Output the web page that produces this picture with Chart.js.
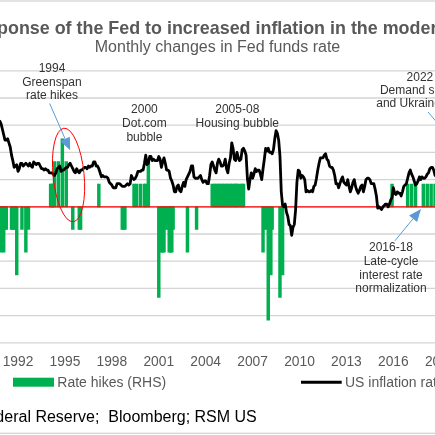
<!DOCTYPE html>
<html>
<head>
<meta charset="utf-8">
<script src="https://cdn.jsdelivr.net/npm/chart.js@4.4.1/dist/chart.umd.min.js"></script>
<style>
  html, body { margin: 0; padding: 0; background: #fff; overflow: hidden; width: 435px; height: 435px; }
  #wrap { position: relative; width: 435px; height: 435px; overflow: hidden; }
  #c { position: absolute; left: -86px; top: 0; }
</style>
</head>
<body>
<div id="wrap"><canvas id="c" width="608" height="435"></canvas></div>
<script>
// ---------------- DATA ----------------
const titleText = 'Response of the Fed to increased inflation in the modern era';
const subtitleText = 'Monthly changes in Fed funds rate';
const sourceText = 'Source: Federal Reserve;  Bloomberg; RSM US';
const seriesNames = ['Rate hikes (RHS)', 'US inflation rate (LHS)'];
const xTickYears = [1992, 1995, 1998, 2001, 2004, 2007, 2010, 2013, 2016, 2019, 2022];

// US CPI inflation, y/y %, monthly from Jan 1990
const inflationStartYear = 1990;
const inflationYoY = [
  5.2, 5.3, 5.2, 4.7, 4.4, 4.7, 4.8, 5.6, 6.2, 6.3, 6.3, 6.1,
  5.7, 5.3, 4.9, 4.9, 5.0, 4.7, 4.4, 3.8, 3.4, 2.9, 3.0, 3.1,
  2.6, 2.8, 3.2, 3.2, 3.0, 3.1, 3.2, 3.1, 3.0, 3.2, 3.0, 2.9,
  3.3, 3.2, 3.1, 3.2, 3.2, 3.0, 2.8, 2.8, 2.7, 2.8, 2.7, 2.7,
  2.5, 2.5, 2.5, 2.4, 2.3, 2.5, 2.8, 2.9, 3.0, 2.6, 2.7, 2.7,
  2.8, 2.9, 2.9, 3.1, 3.2, 3.0, 2.8, 2.6, 2.5, 2.8, 2.6, 2.5,
  2.7, 2.7, 2.8, 2.9, 2.9, 2.8, 3.0, 2.9, 3.0, 3.0, 3.3, 3.3,
  3.0, 3.0, 2.8, 2.5, 2.2, 2.3, 2.2, 2.2, 2.2, 2.1, 1.8, 1.7,
  1.6, 1.4, 1.4, 1.4, 1.7, 1.7, 1.7, 1.6, 1.5, 1.5, 1.5, 1.6,
  1.7, 1.6, 1.7, 2.3, 2.1, 2.0, 2.1, 2.3, 2.6, 2.6, 2.6, 2.7,
  2.7, 3.2, 3.8, 3.1, 3.2, 3.7, 3.7, 3.4, 3.5, 3.4, 3.4, 3.4,
  3.7, 3.5, 2.9, 3.3, 3.6, 3.2, 2.7, 2.7, 2.6, 2.1, 1.9, 1.6,
  1.1, 1.1, 1.5, 1.6, 1.2, 1.1, 1.5, 1.8, 1.5, 2.0, 2.2, 2.4,
  2.6, 3.0, 3.0, 2.2, 2.1, 2.1, 2.1, 2.2, 2.3, 2.0, 1.8, 1.9,
  1.9, 1.7, 1.7, 2.3, 3.1, 3.3, 3.0, 2.7, 2.5, 3.2, 3.5, 3.3,
  3.0, 3.0, 3.1, 3.5, 2.8, 2.5, 3.2, 3.6, 4.7, 4.3, 3.5, 3.4,
  4.0, 3.6, 3.4, 3.5, 4.2, 4.3, 4.1, 3.8, 2.1, 1.3, 2.0, 2.5,
  2.1, 2.4, 2.8, 2.6, 2.7, 2.7, 2.4, 2.0, 2.8, 3.5, 4.3, 4.1,
  4.3, 4.0, 4.0, 3.9, 4.2, 5.0, 5.6, 5.4, 4.9, 3.7, 1.1, 0.1,
  0.0, 0.2, -0.4, -0.7, -1.3, -1.4, -2.1, -1.5, -1.3, -0.2, 1.8, 2.7,
  2.6, 2.1, 2.3, 2.2, 2.0, 1.1, 1.2, 1.1, 1.1, 1.2, 1.1, 1.5,
  1.6, 2.1, 2.7, 3.2, 3.6, 3.6, 3.6, 3.8, 3.9, 3.5, 3.4, 3.0,
  2.9, 2.9, 2.7, 2.3, 1.7, 1.7, 1.4, 1.7, 2.0, 2.2, 1.8, 1.7,
  1.6, 2.0, 1.5, 1.1, 1.4, 1.8, 2.0, 1.5, 1.2, 1.0, 1.2, 1.5,
  1.6, 1.1, 1.5, 2.0, 2.1, 2.1, 2.0, 1.7, 1.7, 1.7, 1.3, 0.8,
  -0.1, 0.0, -0.1, -0.2, 0.0, 0.1, 0.2, 0.2, 0.0, 0.2, 0.5, 0.7,
  1.4, 1.0, 0.9, 1.1, 1.0, 1.0, 0.8, 1.1, 1.5, 1.6, 1.7, 2.1,
  2.5, 2.7, 2.4, 2.2, 1.9, 1.6, 1.7, 1.9, 2.2, 2.0, 2.2, 2.1,
  2.1, 2.2, 2.4, 2.5, 2.8, 2.9, 2.9, 2.7, 2.3, 2.5, 2.2, 1.9,
  1.6, 1.5, 1.9, 2.0, 1.8, 1.6, 1.8, 1.7, 1.7, 1.8, 2.1, 2.3,
  2.5, 2.3, 1.5, 0.3, 0.1, 0.6, 1.0, 1.3, 1.4, 1.2, 1.2, 1.4,
  1.4, 1.7, 2.6, 4.2, 5.0, 5.4, 5.4, 5.3, 5.4, 6.2, 6.8, 7.0,
  7.5, 7.9, 8.5, 8.3, 8.6
];

// Monthly change in Fed funds target (pp), months with a change only
const rateChangeMonths = [
  '1990-07','1990-10','1990-11','1990-12',
  '1991-01','1991-02','1991-03','1991-04','1991-08','1991-09','1991-10','1991-11','1991-12',
  '1992-04','1992-07','1992-09',
  '1994-02','1994-03','1994-04','1994-05','1994-08','1994-11',
  '1995-02','1995-07','1995-12','1996-01','1997-03',
  '1998-09','1998-10','1998-11',
  '1999-06','1999-08','1999-11','2000-02','2000-03','2000-05',
  '2001-01','2001-03','2001-04','2001-05','2001-06','2001-08','2001-09','2001-10','2001-11','2001-12',
  '2002-11','2003-06',
  '2004-06','2004-08','2004-09','2004-11','2004-12',
  '2005-02','2005-03','2005-05','2005-06','2005-08','2005-09','2005-11','2005-12',
  '2006-01','2006-03','2006-05','2006-06',
  '2007-09','2007-10','2007-12',
  '2008-01','2008-03','2008-04','2008-10','2008-12',
  '2015-12','2016-12','2017-03','2017-06','2017-12',
  '2018-03','2018-06','2018-09','2018-12',
  '2019-07','2019-09','2019-10','2020-03',
  '2022-03','2022-05'
];
const rateChangeValues = [
  -0.25, -0.25, -0.25, -0.5,
  -0.25, -0.5, -0.25, -0.25, -0.25, -0.25, -0.25, -0.25, -0.75,
  -0.25, -0.5, -0.25,
  0.25, 0.25, 0.25, 0.5, 0.5, 0.75,
  0.5, -0.25, -0.25, -0.25, 0.25,
  -0.25, -0.25, -0.25,
  0.25, 0.25, 0.25, 0.25, 0.25, 0.5,
  -1.0, -0.5, -0.5, -0.5, -0.25, -0.25, -0.5, -0.5, -0.5, -0.25,
  -0.5, -0.25,
  0.25, 0.25, 0.25, 0.25, 0.25,
  0.25, 0.25, 0.25, 0.25, 0.25, 0.25, 0.25, 0.25,
  0.25, 0.25, 0.25, 0.25,
  -0.5, -0.25, -0.25,
  -1.25, -0.75, -0.25, -1.0, -0.75,
  0.25, 0.25, 0.25, 0.25, 0.25,
  0.25, 0.25, 0.25, 0.25,
  -0.25, -0.25, -0.25, -1.5,
  0.25, 0.5
];

// ---------------- BUILD ----------------
const FONT = "'Liberation Sans', Arial, Helvetica, sans-serif";
const inflationPoints = inflationYoY.map((v, i) => ({ x: inflationStartYear + i / 12, y: v }));
const ratePoints = rateChangeMonths.map((m, i) => {
  const [yr, mo] = m.split('-').map(Number);
  return { x: yr + (mo - 1) / 12, y: rateChangeValues[i] };
});

// annotation anchors in data units (year, LHS %)
const notes = [
  { x: 1994.17, y: 9.93, lh: 13.8, lines: ['1994', 'Greenspan', 'rate hikes'] },
  { x: 2000.08, y: 6.88, lh: 13.7, lines: ['2000', 'Dot.com', 'bubble'] },
  { x: 2006.02, y: 6.88, lh: 13.7, lines: ['2005-08', 'Housing bubble'] },
  { x: 2017.70, y: 9.27, lh: 13.3, lines: ['2022', 'Demand shock', 'and Ukraine war'] },
  { x: 2015.85, y: -3.25, lh: 13.8, lines: ['2016-18', 'Late-cycle', 'interest rate', 'normalization'] }
];
const arrows = [
  { x1: 1994.02, y1: 7.6, x2: 1995.33, y2: 4.15 },
  { x1: 2016.10, y1: -2.5, x2: 2017.77, y2: -0.17 },
  { x1: 2018.22, y1: 6.97, x2: 2021.80, y2: 2.1 }
];
const circle = { x: 1995.23, y: 2.34, rx: 15.5, ry: 47, rot: -0.1 };

function drawArrow(ctx, x1, y1, x2, y2) {
  const a = Math.atan2(y2 - y1, x2 - x1), L = 12.5, hw = 5.2;
  const bx = x2 - L * Math.cos(a), by = y2 - L * Math.sin(a);
  ctx.beginPath(); ctx.moveTo(x1, y1); ctx.lineTo(bx, by); ctx.stroke();
  ctx.beginPath();
  ctx.moveTo(x2, y2);
  ctx.lineTo(bx + hw * Math.sin(a), by - hw * Math.cos(a));
  ctx.lineTo(bx - hw * Math.sin(a), by + hw * Math.cos(a));
  ctx.closePath(); ctx.fill();
}

const decor = {
  id: 'decor',
  beforeDraw(chart) {
    const c = chart.ctx;
    c.save(); c.fillStyle = '#ffffff'; c.fillRect(0, 0, chart.width, chart.height); c.restore();
  },
  // horizontal gridlines from the LHS scale ticks
  beforeDatasetsDraw(chart) {
    const c = chart.ctx, a = chart.chartArea, sy = chart.scales.y;
    c.save();
    c.strokeStyle = '#d4d4d4'; c.lineWidth = 1.3;
    sy.ticks.forEach(t => {
      const y = sy.getPixelForValue(t.value);
      c.beginPath(); c.moveTo(a.left, y); c.lineTo(a.right, y); c.stroke();
    });
    c.restore();
  },
  // red zero line between the bars and the inflation line
  beforeDatasetDraw(chart, args) {
    if (args.meta.type !== 'line') return;
    const c = chart.ctx, a = chart.chartArea;
    const y0 = chart.scales.y.getPixelForValue(0);
    c.save();
    c.strokeStyle = '#ff0000'; c.lineWidth = 1.2;
    c.beginPath(); c.moveTo(a.left, y0); c.lineTo(a.right, y0); c.stroke();
    c.restore();
  },
  afterDraw(chart) {
    const c = chart.ctx, sx = chart.scales.x, sy = chart.scales.y;
    const W = chart.width;
    c.save();
    c.textBaseline = 'alphabetic';
    c.fillStyle = '#595959';
    c.font = 'bold 17.9px ' + FONT;
    c.textAlign = 'left';
    c.fillText(titleText, 50.2, 34);
    c.font = '16px ' + FONT;
    c.textAlign = 'center';
    c.fillText(subtitleText, 303.5, 51.7);

    c.fillStyle = '#333333';
    c.font = '12px ' + FONT;
    c.textAlign = 'center';
    notes.forEach(n => {
      const px = sx.getPixelForValue(n.x), py = sy.getPixelForValue(n.y);
      n.lines.forEach((t, i) => c.fillText(t, px, py + i * n.lh));
    });
    c.strokeStyle = '#5b9bd5'; c.fillStyle = '#5b9bd5'; c.lineWidth = 1;
    arrows.forEach(r => drawArrow(c, sx.getPixelForValue(r.x1), sy.getPixelForValue(r.y1),
                                     sx.getPixelForValue(r.x2), sy.getPixelForValue(r.y2)));
    c.strokeStyle = '#ff0000'; c.lineWidth = 1;
    c.beginPath();
    c.ellipse(sx.getPixelForValue(circle.x), sy.getPixelForValue(circle.y), circle.rx, circle.ry, circle.rot, 0, Math.PI * 2);
    c.stroke();

    // legend
    c.fillStyle = '#00b050';
    c.fillRect(99, 377.7, 41, 9);
    c.strokeStyle = '#000000'; c.lineWidth = 3;
    c.beginPath(); c.moveTo(387, 382.2); c.lineTo(427.7, 382.2); c.stroke();
    c.fillStyle = '#595959';
    c.font = '14px ' + FONT;
    c.textAlign = 'left';
    c.fillText(seriesNames[0], 143.3, 387);
    c.fillText(seriesNames[1], 431, 387);

    // source
    c.fillStyle = '#000000';
    c.font = '16px ' + FONT;
    c.fillText(sourceText, 3.1, 421.5);

    // chart border
    c.strokeStyle = '#d4d4d4'; c.lineWidth = 1.3;
    c.strokeRect(1, 1, W - 2, 432.3);
    c.restore();
  }
};

const tickFont = { family: FONT, size: 13.8 };
new Chart(document.getElementById('c'), {
  type: 'line',
  data: {
    datasets: [
      { type: 'bar', label: seriesNames[0], data: ratePoints, yAxisID: 'y1',
        backgroundColor: '#00b050', borderWidth: 0, barThickness: 2.8, order: 2 },
      { type: 'line', label: seriesNames[1], data: inflationPoints, yAxisID: 'y',
        borderColor: '#000000', backgroundColor: '#000000', borderWidth: 2.8, pointRadius: 0,
        tension: 0, borderJoinStyle: 'round', borderCapStyle: 'round', fill: false, order: 1 }
    ]
  },
  options: {
    responsive: false,
    animation: false,
    events: [],
    layout: { padding: { top: 70.8, left: 0, right: 0, bottom: 0 } },
    plugins: { legend: { display: false }, tooltip: { enabled: false }, title: { display: false } },
    scales: {
      x: {
        type: 'linear', min: 1989.9, max: 2022.5, offset: false,
        grid: { display: false }, border: { display: false },
        afterBuildTicks: s => { s.ticks = xTickYears.map(v => ({ value: v })); },
        afterFit: s => { s.height = 92.2; },
        ticks: { autoSkip: false, maxRotation: 0, padding: 3, color: '#595959', font: tickFont,
                 callback: v => String(v) }
      },
      y: {
        position: 'left', min: -10, max: 10,
        ticks: { stepSize: 2, color: '#595959', font: tickFont },
        grid: { display: false },
        border: { display: false },
        afterFit: s => { s.width = 71.2; }
      },
      y1: {
        position: 'right', min: -1.5, max: 1.5,
        ticks: { stepSize: 0.5, color: '#595959', font: tickFont },
        grid: { display: false }, border: { display: false },
        afterFit: s => { s.width = 27; }
      }
    }
  },
  plugins: [decor]
});
</script>
</body>
</html>
